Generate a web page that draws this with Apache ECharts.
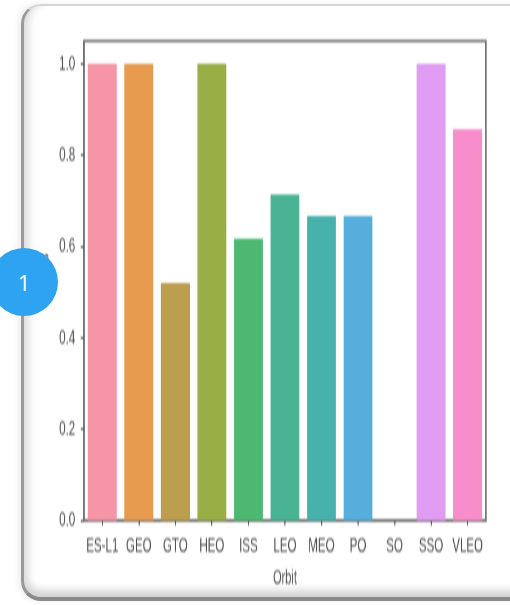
<!DOCTYPE html>
<html><head><meta charset="utf-8">
<style>
html,body{margin:0;padding:0;width:510px;height:605px;background:#fff;overflow:hidden}
#frame{position:absolute;left:21px;top:4px;width:520px;height:597px;box-sizing:border-box;border-radius:20px;
 border-top:2px solid #d6d6d6;border-left:3px solid #9a9a9a;border-bottom:4px solid #8a8a8a;
 box-shadow:inset 10px 0 10px -6px #d8d8d8,inset 0 -12px 10px -6px #cfcfcf,-3px 0 6px #eee;background:#fff}
#main{position:absolute;left:0;top:0;width:927.27px;height:605px;transform:scaleX(0.55);transform-origin:0 0;filter:blur(0.9px)}
#badge{position:absolute;left:-10px;top:248px;width:68px;height:68px;border-radius:50%;background:#2ea3f2;color:#fff;
 font:22px "Open Sans",sans-serif;display:flex;align-items:center;justify-content:center;box-sizing:border-box}
</style></head><body>
<div id="frame"></div>
<div id="main"></div>
<div id="badge"><span>1</span></div>
<script src="https://cdn.jsdelivr.net/npm/echarts@6/dist/echarts.min.js"></script>
<script>
const categories=['ES-L1','GEO','GTO','HEO','ISS','LEO','MEO','PO','SO','SSO','VLEO'];
const successRate=[1,1,0.52,1,0.617,0.714,0.667,0.667,0,1,0.857];
const barColors=['#f595a6','#e69b4f','#bd9e4f','#99ae45','#4cb871','#4ab393','#47b2ac','#55aedc','#9aa8e8','#e09cf2','#f78ecb'];
const yTicks=[0,0.2,0.4,0.6,0.8,1.0];
const font='"Liberation Sans",sans-serif';
const chart=echarts.init(document.getElementById('main'),null,{renderer:'canvas'});
chart.setOption({
 backgroundColor:'transparent',animation:false,
 grid:{left:152.7,right:43.6,top:41,bottom:84.5,show:true,borderColor:'#6e6e6e',borderWidth:2.6,backgroundColor:'transparent'},
 xAxis:{type:'category',data:categories,name:'Orbit',nameLocation:'middle',nameGap:48,
  nameTextStyle:{color:'#4a4a4a',fontFamily:font,fontSize:20},
  axisLine:{show:true,lineStyle:{color:'#6e6e6e',width:2.6}},
  axisTick:{show:true,alignWithLabel:true,length:5,lineStyle:{color:'#555',width:2}},
  axisLabel:{color:'#4a4a4a',fontFamily:font,fontSize:21,margin:15,interval:0}},
 yAxis:{type:'value',min:0,max:1.05,name:'Class',nameLocation:'middle',nameGap:60,
  nameTextStyle:{color:'#4a4a4a',fontFamily:font,fontSize:22},
  splitLine:{show:false},
  axisLine:{show:true,lineStyle:{color:'#6e6e6e',width:2.6}},
  axisTick:{show:true,length:6,customValues:yTicks,lineStyle:{color:'#555',width:2}},
  axisLabel:{color:'#4a4a4a',fontFamily:font,fontSize:21,margin:16,customValues:yTicks,formatter:v=>v.toFixed(1)}},
 series:[{type:'bar',barWidth:'79%',
  data:successRate.map((v,i)=>({value:v,itemStyle:{color:barColors[i]}}))}]
});
</script></body></html>
